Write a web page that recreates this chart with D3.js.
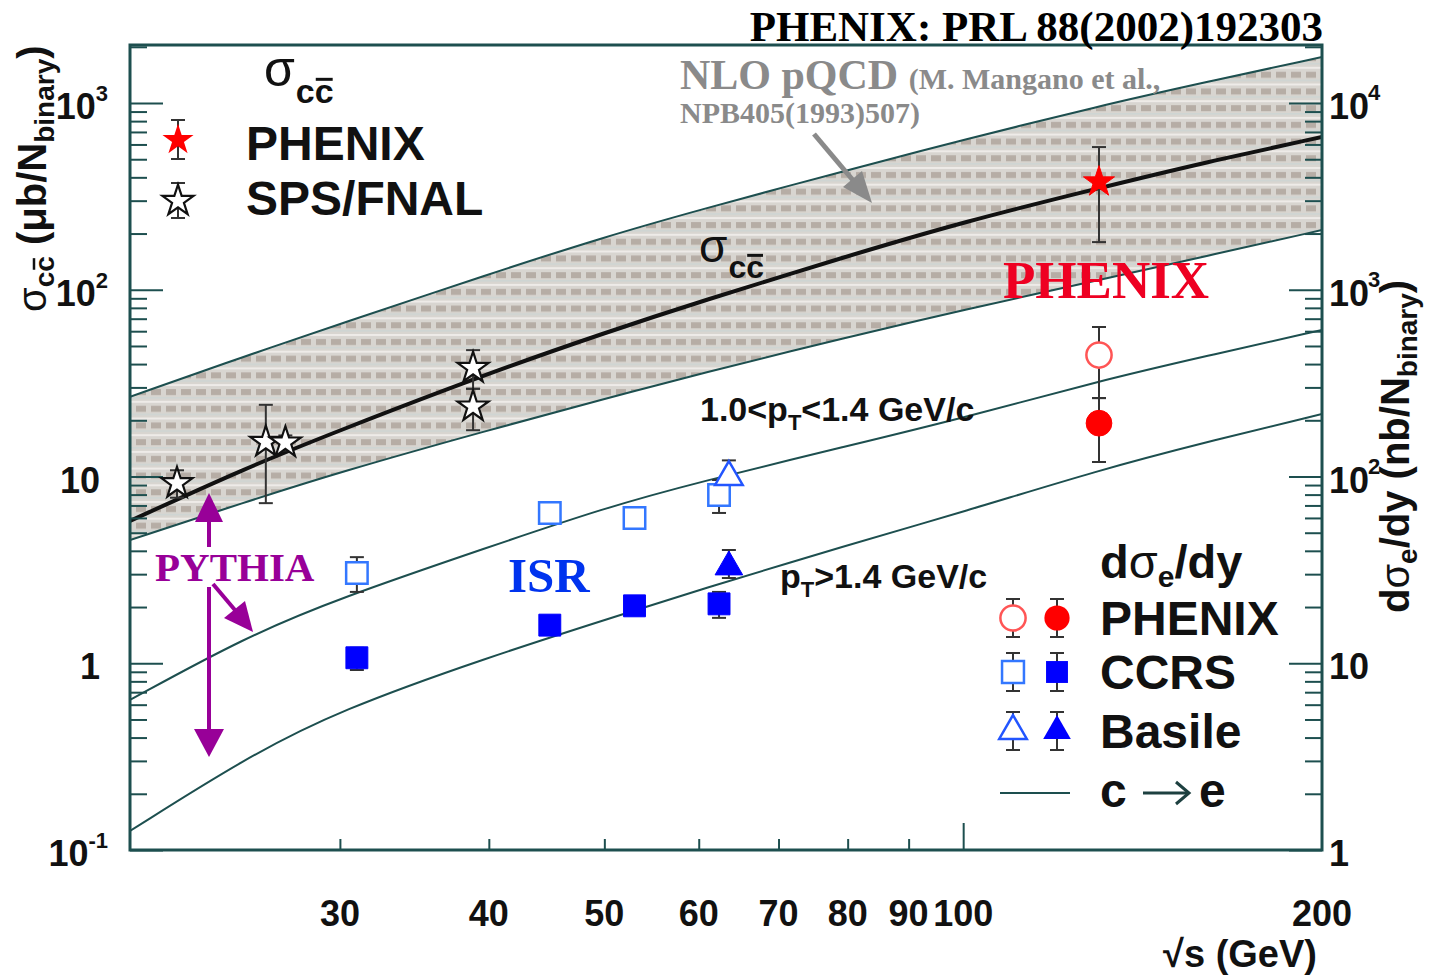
<!DOCTYPE html>
<html>
<head>
<meta charset="utf-8">
<script src="https://cdn.jsdelivr.net/npm/d3@7"></script>
<style>
  body { margin: 0; background: #fff; }
  svg text { font-family: "Liberation Sans", Arial, Helvetica, sans-serif; font-weight: bold; }
  svg text.serif { font-family: "Liberation Serif", "Times New Roman", serif; }
</style>
</head>
<body>
<div id="chart"></div>
<script>
const width = 1431;
const height = 976;

const sqrtsGrid = [20, 25, 30, 40, 50, 60, 80, 100, 130, 160, 200];

// NLO pQCD sigma_cc band + central value (ub / N_binary, left axis)
const nloUpper   = [26.7, 44.2, 65.5, 121.4, 191.7, 267.3, 437.8, 633.9, 963.6, 1296, 1763];
const nloCentral = [5.78, 11.1, 17.7, 35.8, 58.7, 86.0, 151.6, 230.6, 350.5, 483.2, 657.7];
const nloLower   = [4.57, 7.30, 10.57, 17.74, 26.0, 35.4, 55.8, 77.9, 112.8, 151.6, 208.9];

// PYTHIA c -> e curves (nb / N_binary, right axis)
const ceLowPt  = [6.36, 13.82, 22.36, 41.93, 67.83, 93.4, 145.7, 205.7, 324.7, 441.8, 608.9];   // 1.0<pT<1.4
const ceHighPt = [1.264, 3.11, 5.62, 10.80, 17.04, 24.67, 42.97, 64.55, 108.3, 152.9, 216.1];   // pT>1.4

// points: [sqrt(s), value, low, high]
const phenixSigma = [[130, 378, 180, 581]];
const spsFnalSigma = [
    [21.9, 9.2, 7.7, 10.8],
    [26.0, 15.3, 7.2, 24.2],
    [27.0, 15.2, 13.8, 16.6],
    [38.8, 38.1, 29.5, 47.5],
    [38.8, 23.7, 17.7, 29.5]
];
const phenixLowPt  = [[130, 447, 263, 632]];
const phenixHighPt = [[130, 193, 119.6, 263]];
const ccrsLowPt  = [[31.0, 30.4, 24.1, 37.0], [45.0, 63.8, 58.5, 69.0], [53.0, 60.0, 53.5, 66.0], [62.4, 79.6, 63.8, 95.8]];
const ccrsHighPt = [[31.0, 10.7, 9.2, 12.1], [45.0, 16.0, 15.0, 17.0], [53.0, 20.3, 19.0, 21.6], [62.4, 20.8, 17.5, 24.1]];
const basileLowPt  = [[63.6, 99.4, 92.3, 122]];
const basileHighPt = [[63.6, 32.8, 28.6, 40.4]];

// axis ticks / labels
const xTickLabels = [30, 40, 50, 60, 70, 80, 90, 100, 200];
const yLeftLabels  = [[0.1, "10", "-1"], [1, "1", ""], [10, "10", ""], [100, "10", "2"], [1000, "10", "3"]];
const yRightLabels = [[1, "1", ""], [10, "10", ""], [100, "10", "2"], [1000, "10", "3"], [10000, "10", "4"]];

const lineCol = "#1d4f4f";
const errCol = "#333";

const svg = d3.select("#chart")
    .append("svg")
    .attr("width", width)
    .attr("height", height)
    .style("background", "#fff");

const x = d3.scaleLog().domain([20, 200]).range([130, 1322]);
const yL = d3.scaleLog().domain([0.1, 2045]).range([850, 45]);
const yR = d3.scaleLog().domain([1, 20450]).range([850, 45]);

// hatch used by ROOT fill style
const defs = svg.append("defs");
const pat = defs.append("pattern")
    .attr("id", "hatch")
    .attr("patternUnits", "userSpaceOnUse")
    .attr("width", 15)
    .attr("height", 16.7);
pat.append("rect").attr("width", 15).attr("height", 16.7).attr("fill", "#d8d5d0");
pat.append("rect").attr("x", 1).attr("y", 5).attr("width", 10).attr("height", 6).attr("fill", "#b6ada5");
pat.append("rect").attr("y", 0).attr("width", 15).attr("height", 2).attr("fill", "#eeebe8");
pat.append("rect").attr("y", 13).attr("width", 15).attr("height", 1.2).attr("fill", "#cbd6d4");

defs.append("clipPath").attr("id", "plotclip")
    .append("rect").attr("x", 130).attr("y", 45).attr("width", 1192).attr("height", 805);

const plot = svg.append("g").attr("clip-path", "url(#plotclip)");

// NLO band
const band = d3.area()
    .x((d, i) => x(sqrtsGrid[i]))
    .y0((d, i) => yL(nloLower[i]))
    .y1((d, i) => yL(nloUpper[i]))
    .curve(d3.curveBasis);

plot.append("path")
    .datum(sqrtsGrid)
    .attr("d", band)
    .attr("fill", "url(#hatch)");

function curve(vals, scale) {
    return d3.line()
        .x((d, i) => x(sqrtsGrid[i]))
        .y((d, i) => scale(vals[i]))
        .curve(d3.curveBasis)(sqrtsGrid);
}

[nloUpper, nloLower].forEach(v => {
    plot.append("path").attr("d", curve(v, yL))
        .attr("fill", "none").attr("stroke", lineCol).attr("stroke-width", 2);
});
plot.append("path").attr("d", curve(nloCentral, yL))
    .attr("fill", "none").attr("stroke", "#111").attr("stroke-width", 4);

[ceLowPt, ceHighPt].forEach(v => {
    plot.append("path").attr("d", curve(v, yR))
        .attr("fill", "none").attr("stroke", lineCol).attr("stroke-width", 2);
});

// axes
const isDecade = v => Math.abs(Math.log10(v) - Math.round(Math.log10(v))) < 1e-6;
const minorL = yL.ticks().filter(v => !isDecade(v));
const majorL = yL.ticks().filter(isDecade);
const minorR = yR.ticks().filter(v => !isDecade(v));
const majorR = yR.ticks().filter(isDecade);

function styleAxis(g) {
    g.select(".domain").remove();
    g.selectAll(".tick line").attr("stroke", lineCol).attr("stroke-width", 2);
    g.selectAll(".tick text").remove();
}

svg.append("g").attr("transform", "translate(130,0)")
    .call(d3.axisLeft(yL).tickValues(minorL).tickSize(-17).tickFormat("")).call(styleAxis);
svg.append("g").attr("transform", "translate(130,0)")
    .call(d3.axisLeft(yL).tickValues(majorL).tickSize(-33).tickFormat("")).call(styleAxis);
svg.append("g").attr("transform", "translate(1322,0)")
    .call(d3.axisRight(yR).tickValues(minorR).tickSize(-17).tickFormat("")).call(styleAxis);
svg.append("g").attr("transform", "translate(1322,0)")
    .call(d3.axisRight(yR).tickValues(majorR).tickSize(-33).tickFormat("")).call(styleAxis);
svg.append("g").attr("transform", "translate(0,850)")
    .call(d3.axisBottom(x).tickValues([30, 40, 50, 60, 70, 80, 90]).tickSize(-11).tickFormat("")).call(styleAxis);
svg.append("g").attr("transform", "translate(0,850)")
    .call(d3.axisBottom(x).tickValues([100]).tickSize(-27).tickFormat("")).call(styleAxis);

svg.append("rect")
    .attr("x", 130).attr("y", 45).attr("width", 1192).attr("height", 805)
    .attr("fill", "none").attr("stroke", lineCol).attr("stroke-width", 3);

// tick labels
svg.selectAll(".xlab").data(xTickLabels).enter().append("text")
    .attr("x", d => x(d)).attr("y", 926)
    .attr("text-anchor", "middle").attr("font-size", 36).attr("fill", "#111")
    .text(d => d);

yLeftLabels.forEach(([v, base, sup]) => {
    const t = svg.append("text")
        .attr("x", sup ? 108 : 100).attr("y", yL(v) + 16)
        .attr("text-anchor", "end").attr("font-size", 36).attr("fill", "#111");
    t.append("tspan").text(base);
    if (sup) t.append("tspan").attr("font-size", 22).attr("dy", -18).text(sup);
});

yRightLabels.forEach(([v, base, sup]) => {
    const t = svg.append("text")
        .attr("x", 1329).attr("y", yR(v) + 16)
        .attr("font-size", 36).attr("fill", "#111");
    t.append("tspan").text(base);
    if (sup) t.append("tspan").attr("font-size", 22).attr("dy", -19).attr("dx", -1).text(sup);
});

// axis titles (rotated), with the c-bar drawn from glyph extents
function rotTitle(tx, ty, parts, barIndex) {
    const g = svg.append("g").attr("transform", `translate(${tx},${ty}) rotate(-90)`);
    const t = g.append("text").attr("font-size", 40).attr("fill", "#111");
    parts.forEach(([txt, sub, normal]) => {
        const s = t.append("tspan").text(txt);
        if (sub === 1) s.attr("font-size", 28).attr("dy", 8);
        if (sub === -1) s.attr("dy", -8);
        if (normal) s.style("font-weight", "normal");
    });
    if (barIndex != null) {
        const e = t.node().getExtentOfChar(barIndex);
        g.append("line").attr("x1", e.x + 2).attr("x2", e.x + e.width - 2)
            .attr("y1", e.y + 5).attr("y2", e.y + 5)
            .attr("stroke", "#111").attr("stroke-width", 2.5);
    }
}
rotTitle(46, 312, [["σ", 0, true], ["cc", 1], [" (μb/N", -1], ["binary", 1], [")", -1]], 2);
rotTitle(1409, 613, [["d", 0], ["σ", 0, true], ["e", 1], ["/dy (nb/N", -1], ["binary", 1], [")", -1]], null);

svg.append("text")
    .attr("x", 1317).attr("y", 967)
    .attr("text-anchor", "end").attr("font-size", 38).attr("fill", "#111")
    .text("√s (GeV)");

svg.append("text").attr("class", "serif")
    .attr("x", 1323).attr("y", 41)
    .attr("text-anchor", "end").attr("font-size", 43).attr("fill", "#000")
    .text("PHENIX: PRL 88(2002)192303");

// error bars + markers
function errBar(g, cx, y1, y2, cap) {
    g.append("line").attr("x1", cx).attr("x2", cx).attr("y1", y1).attr("y2", y2)
        .attr("stroke", errCol).attr("stroke-width", 2);
    [y1, y2].forEach(yy => g.append("line")
        .attr("x1", cx - cap).attr("x2", cx + cap).attr("y1", yy).attr("y2", yy)
        .attr("stroke", errCol).attr("stroke-width", 2));
}

const markers = svg.append("g");

function drawPoints(data, scale, type, size, fill, stroke, sw) {
    data.forEach(d => errBar(markers, x(d[0]), scale(d[2]), scale(d[3]), 7));
    markers.selectAll(null).data(data).enter().append("path")
        .attr("transform", d => `translate(${x(d[0])},${scale(d[1])})`)
        .attr("d", d3.symbol().type(type).size(size))
        .attr("fill", fill).attr("stroke", stroke).attr("stroke-width", sw);
}

drawPoints(spsFnalSigma, yL, d3.symbolStar, 300, "#fff", "#111", 2.2);
drawPoints(phenixSigma, yL, d3.symbolStar, 300, "#ff0000", "#ff0000", 1);
drawPoints(ccrsLowPt, yR, d3.symbolSquare, 460, "#fff", "#3377ff", 2.5);
drawPoints(ccrsHighPt, yR, d3.symbolSquare, 480, "#0000ff", "#0000ff", 1);
drawPoints(basileLowPt, yR, d3.symbolTriangle, 330, "#fff", "#2255ff", 2.5);
drawPoints(basileHighPt, yR, d3.symbolTriangle, 330, "#0000ff", "#0000ff", 1);
drawPoints(phenixLowPt, yR, d3.symbolCircle, 500, "#fff", "#ff5555", 2.5);
drawPoints(phenixHighPt, yR, d3.symbolCircle, 520, "#ff0000", "#ff0000", 1);

// sigma_cc labels
function sigmaCC(px, py, fsS, fsSub) {
    const g = svg.append("g");
    const t = g.append("text").attr("x", px).attr("y", py).attr("font-size", fsS).attr("fill", "#111")
        .style("font-weight", "normal").text("σ");
    const w = t.node().getComputedTextLength();
    const subY = py + fsSub * 0.5;
    const s = g.append("text").attr("x", px + w + 1).attr("y", subY).attr("font-size", fsSub).attr("fill", "#111").text("cc");
    const e = s.node().getExtentOfChar(1);
    const by = subY - fsSub * 0.52 - 6;
    g.append("line").attr("x1", e.x + 1).attr("x2", e.x + e.width - 1).attr("y1", by).attr("y2", by)
        .attr("stroke", "#111").attr("stroke-width", 3);
}
sigmaCC(264, 86, 50, 34);
sigmaCC(699, 262, 46, 32);

// top-left legend
errBar(svg, 178, 120, 159, 7);
svg.append("path").attr("transform", "translate(178,140)")
    .attr("d", d3.symbol().type(d3.symbolStar).size(300)).attr("fill", "#ff0000");
errBar(svg, 178, 183, 218, 7);
svg.append("path").attr("transform", "translate(178,201)")
    .attr("d", d3.symbol().type(d3.symbolStar).size(300)).attr("fill", "#fff").attr("stroke", "#111").attr("stroke-width", 2.2);
svg.append("text").attr("x", 246).attr("y", 160).attr("font-size", 48).attr("fill", "#111").text("PHENIX");
svg.append("text").attr("x", 246).attr("y", 215).attr("font-size", 48).attr("fill", "#111").text("SPS/FNAL");

// NLO annotation
const nlo = svg.append("text").attr("class", "serif").attr("x", 680).attr("y", 89).attr("fill", "#8a8a8a");
nlo.append("tspan").attr("font-size", 42).text("NLO pQCD ");
nlo.append("tspan").attr("font-size", 30).text("(M. Mangano et al.,");
svg.append("text").attr("class", "serif").attr("x", 680).attr("y", 123)
    .attr("font-size", 30).attr("fill", "#8a8a8a").text("NPB405(1993)507)");
svg.append("line").attr("x1", 814).attr("y1", 134).attr("x2", 857).attr("y2", 185)
    .attr("stroke", "#8a8a8a").attr("stroke-width", 5);
svg.append("path").attr("d", "M872,203 L843,187 L862,171 Z").attr("fill", "#8a8a8a");

svg.append("text").attr("class", "serif").attr("x", 1003).attr("y", 298)
    .attr("font-size", 53).attr("fill", "#ee0022").text("PHENIX");

// pT labels
const p1 = svg.append("text").attr("x", 700).attr("y", 421).attr("font-size", 34).attr("fill", "#111");
p1.append("tspan").text("1.0<p");
p1.append("tspan").attr("font-size", 22).attr("dy", 9).text("T");
p1.append("tspan").attr("dy", -9).text("<1.4 GeV/c");
const p2 = svg.append("text").attr("x", 780).attr("y", 588).attr("font-size", 34).attr("fill", "#111");
p2.append("tspan").text("p");
p2.append("tspan").attr("font-size", 22).attr("dy", 9).text("T");
p2.append("tspan").attr("dy", -9).text(">1.4 GeV/c");

svg.append("text").attr("class", "serif").attr("x", 508).attr("y", 592)
    .attr("font-size", 49).attr("fill", "#0033ee").text("ISR");

// PYTHIA annotation
const purple = "#980098";
svg.append("text").attr("class", "serif").attr("x", 155).attr("y", 581)
    .attr("font-size", 41).attr("fill", purple).text("PYTHIA");
svg.append("line").attr("x1", 209).attr("y1", 547).attr("x2", 209).attr("y2", 515).attr("stroke", purple).attr("stroke-width", 4);
svg.append("path").attr("d", "M209,493 L223,522 L195,522 Z").attr("fill", purple);
svg.append("line").attr("x1", 209).attr("y1", 587).attr("x2", 209).attr("y2", 735).attr("stroke", purple).attr("stroke-width", 4);
svg.append("path").attr("d", "M209,757 L224,729 L194,729 Z").attr("fill", purple);
svg.append("line").attr("x1", 213).attr("y1", 584).attr("x2", 240).attr("y2", 616).attr("stroke", purple).attr("stroke-width", 4);
svg.append("path").attr("d", "M253,632 L224,618 L245,601 Z").attr("fill", purple);

// bottom-right legend
const lg = svg.append("g");
const dsy = lg.append("text").attr("x", 1100).attr("y", 578).attr("font-size", 47).attr("fill", "#111");
dsy.append("tspan").text("d");
dsy.append("tspan").style("font-weight", "normal").text("σ");
dsy.append("tspan").attr("font-size", 30).attr("dy", 9).text("e");
dsy.append("tspan").attr("dy", -9).text("/dy");

const legRows = [
    { name: "PHENIX", y: 618, type: d3.symbolCircle, size: 500, open: "#ff5555", full: "#ff0000" },
    { name: "CCRS", y: 672, type: d3.symbolSquare, size: 480, open: "#3377ff", full: "#0000ff" },
    { name: "Basile", y: 731, type: d3.symbolTriangle, size: 330, open: "#2255ff", full: "#0000ff" }
];
legRows.forEach(r => {
    errBar(lg, 1013, r.y - 19, r.y + 19, 7);
    errBar(lg, 1057, r.y - 19, r.y + 19, 7);
    lg.append("path").attr("transform", `translate(1013,${r.y})`)
        .attr("d", d3.symbol().type(r.type).size(r.size)).attr("fill", "#fff").attr("stroke", r.open).attr("stroke-width", 2.5);
    lg.append("path").attr("transform", `translate(1057,${r.y})`)
        .attr("d", d3.symbol().type(r.type).size(r.size)).attr("fill", r.full);
    lg.append("text").attr("x", 1100).attr("y", r.y + 17).attr("font-size", 48).attr("fill", "#111").text(r.name);
});
lg.append("line").attr("x1", 1000).attr("x2", 1070).attr("y1", 793).attr("y2", 793).attr("stroke", lineCol).attr("stroke-width", 2);
// "c -> e" with a long arrow as in ROOT's #rightarrow
lg.append("text").attr("x", 1100).attr("y", 807).attr("font-size", 48).attr("fill", "#111").text("c");
lg.append("text").attr("x", 1199).attr("y", 807).attr("font-size", 48).attr("fill", "#111").text("e");
lg.append("line").attr("x1", 1143).attr("x2", 1188).attr("y1", 793).attr("y2", 793).attr("stroke", "#1d4040").attr("stroke-width", 3);
lg.append("path").attr("d", "M1176,782 L1189,793 L1176,804").attr("fill", "none").attr("stroke", "#1d4040").attr("stroke-width", 3);
</script>
</body>
</html>
